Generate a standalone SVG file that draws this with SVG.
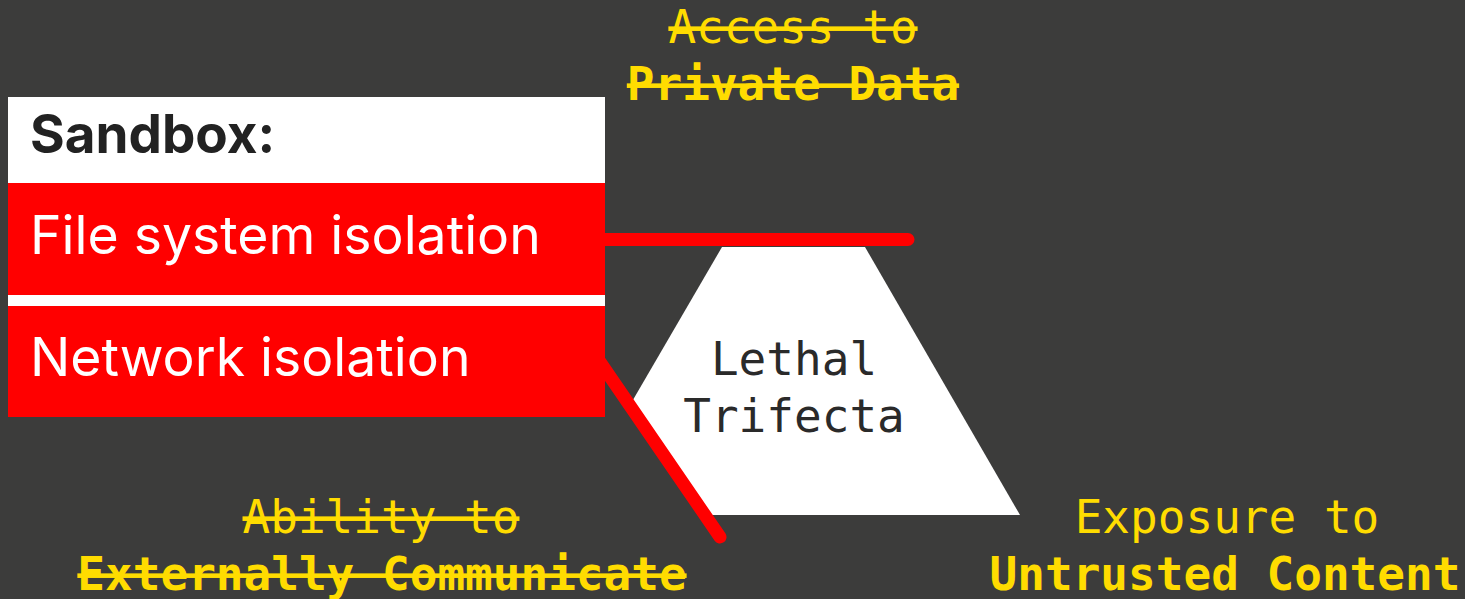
<svg xmlns="http://www.w3.org/2000/svg" width="1465" height="599" viewBox="0 0 1465 599">
<style>
.mono{font-family:"DejaVu Sans Mono","Liberation Mono",monospace;font-size:46px;text-anchor:middle}
.y{fill:#ffdc00}
.b{font-weight:bold}
.strike{text-decoration:line-through}
.sans{font-family:Inter,Roboto,"Liberation Sans",sans-serif}
.red{fill:#ff0000}
.conn{stroke:#ff0000;stroke-width:13;fill:none;stroke-linecap:round}
</style>
<rect width="1465" height="599" fill="#3c3c3b"/>
<g id="trifecta">
<polygon points="722,247 865,247 1020,515 706,515 630,405" fill="#ffffff"/>
<text class="mono" x="794" y="375" fill="#2a2a2a">Lethal</text>
<text class="mono" x="794" y="432" fill="#2a2a2a">Trifecta</text>
</g>
<g id="private-data">
<text class="mono y strike" x="793" y="43">Access to</text>
<text class="mono y b strike" x="793" y="100">Private Data</text>
</g>
<g id="external-comm">
<text class="mono y strike" x="381" y="533">Ability to</text>
<text class="mono y b strike" x="382" y="590">Externally Communicate</text>
</g>
<g id="untrusted">
<text class="mono y" x="1227" y="533">Exposure to</text>
<text class="mono y b" x="1225" y="590">Untrusted Content</text>
</g>
<g id="connectors">
<line class="conn" x1="600" y1="239.5" x2="908" y2="239.5"/>
<line class="conn" x1="600" y1="362" x2="720" y2="537"/>
</g>
<g id="sandbox">
<rect x="8" y="97" width="597" height="320" fill="#ffffff"/>
<rect class="red" x="8" y="183" width="597" height="112"/>
<rect class="red" x="8" y="306" width="597" height="111"/>
<text class="sans b" x="30" y="153" font-size="53" fill="#222222">Sandbox:</text>
<text class="sans" x="30" y="254" font-size="53.5" fill="#ffffff">File system isolation</text>
<text class="sans" x="30" y="376" font-size="53.5" fill="#ffffff">Network isolation</text>
</g>
</svg>
